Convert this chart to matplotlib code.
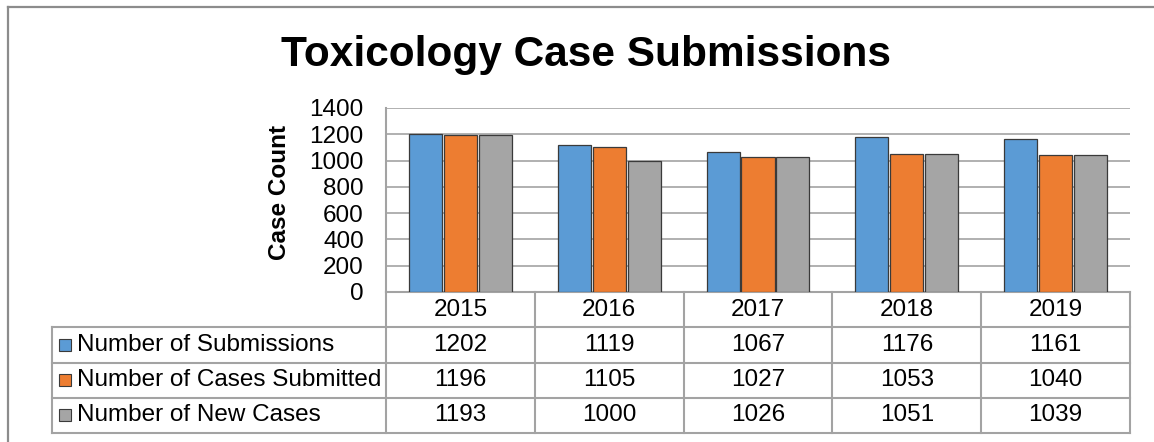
import numpy as np
import matplotlib
matplotlib.use("Agg")
import matplotlib.pyplot as plt
from matplotlib.lines import Line2D

plt.rcParams['font.family'] = ['Liberation Sans', 'DejaVu Sans']

years = ["2015", "2016", "2017", "2018", "2019"]
series_names = ["Number of Submissions", "Number of Cases Submitted", "Number of New Cases"]
submissions = [1202, 1119, 1067, 1176, 1161]
cases_submitted = [1196, 1105, 1027, 1053, 1040]
new_cases = [1193, 1000, 1026, 1051, 1039]
colors = ["#5B9BD5", "#ED7D31", "#A5A5A5"]
yticks = [0, 200, 400, 600, 800, 1000, 1200, 1400]

W, H = 1154, 442
fig = plt.figure(figsize=(W / 100, H / 100), dpi=100)

# pixel geometry of the plot area
left, right, top, bottom = 386, 1130, 108, 292
tab_bottom = 433
ax = fig.add_axes([left / W, (H - bottom) / H, (right - left) / W, (bottom - top) / H])
ax_t = fig.add_axes([left / W, (H - tab_bottom) / H, (right - left) / W, (tab_bottom - bottom) / H])

grid_c = "#A3A3A3"
fs = 17.5
x = np.arange(len(years))
data = [submissions, cases_submitted, new_cases]
for i, vals in enumerate(data):
    ax.bar(x + (i - 1) * 0.234, vals, width=0.222, color=colors[i],
           edgecolor="#3A3A3A", linewidth=0.9, zorder=3)

ax.set_xlim(-0.5, len(years) - 0.5)
ax.set_ylim(0, 1400)
ax.set_yticks(yticks)
ax.set_xticks([])
ax.yaxis.grid(True, color=grid_c, linewidth=1.2, zorder=0)
ax.tick_params(axis='y', length=0, pad=16, labelsize=fs)
for s in ["top", "right"]:
    ax.spines[s].set_visible(False)
for s in ["left", "bottom"]:
    ax.spines[s].set_color(grid_c)
    ax.spines[s].set_linewidth(1.5)

# table below the plot
ax_t.set_xlim(-0.5, len(years) - 0.5)
ax_t.set_ylim(0, 4)
ax_t.axis("off")
px = (right - left) / len(years)  # pixels per category
x_lab = -0.5 - (left - 52) / px
lk = dict(color=grid_c, linewidth=1.5, clip_on=False)
for yy in [0, 1, 2, 3]:
    ax_t.plot([x_lab, len(years) - 0.5], [yy, yy], **lk)
ax_t.plot([x_lab, x_lab], [0, 3], **lk)
for xx in np.arange(-0.5, len(years)):
    ax_t.plot([xx, xx], [0, 4], **lk)

for j, yr in enumerate(years):
    ax_t.text(j, 3.5, yr, ha="center", va="center", fontsize=fs)
for i, vals in enumerate(data):
    row = 2.5 - i
    ax_t.plot([-0.5 - (left - 65.5) / px], [row], marker="s", markersize=8,
              color=colors[i], markeredgecolor="#3A3A3A", markeredgewidth=0.8, clip_on=False)
    ax_t.text(-0.5 - (left - 77) / px, row, series_names[i], ha="left", va="center", fontsize=fs)
    for j, v in enumerate(vals):
        ax_t.text(j, row, str(v), ha="center", va="center", fontsize=fs)

fig.text(586 / W, 1 - 66 / H, "Toxicology Case Submissions", ha="center", va="baseline",
         fontsize=30.5, fontweight="bold")
fig.text(279 / W, 1 - 192 / H, "Case Count", ha="center", va="center", rotation=90,
         fontsize=fs, fontweight="bold")

# outer chart border (left and top visible)
fig.add_artist(Line2D([7.5 / W, 7.5 / W], [0, 1 - 6.5 / H], color="#8C8C8C", linewidth=1.6))
fig.add_artist(Line2D([7.5 / W, 1], [1 - 6.5 / H, 1 - 6.5 / H], color="#8C8C8C", linewidth=1.6))

fig.savefig("out.png", dpi=100)
